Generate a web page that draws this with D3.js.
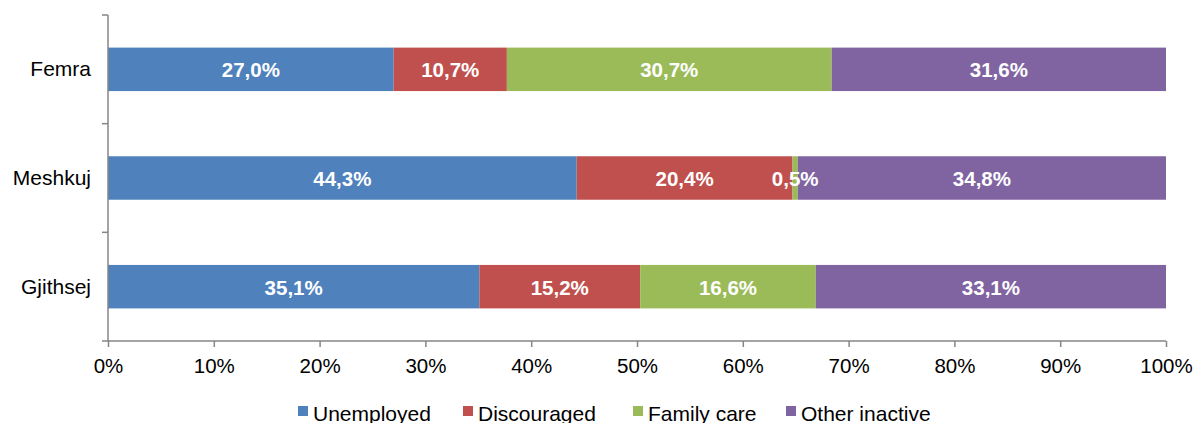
<!DOCTYPE html>
<html>
<head>
  <script src="https://cdnjs.cloudflare.com/ajax/libs/d3/7.8.5/d3.min.js"></script>
  <style>
    body { margin: 0; background: #fff; overflow: hidden; }
    svg { display: block; }
    text { font-family: "Liberation Sans", Arial, sans-serif; }
    .bar-label { fill: #fff; font-weight: bold; font-size: 20.5px; }
  </style>
</head>
<body>
  <div id="chart"></div>
  <script>
    // Data
    const categories = ["Femra", "Meshkuj", "Gjithsej"];
    const seriesNames = ["Unemployed", "Discouraged", "Family care", "Other inactive"];
    const unemployed = [27.0, 44.3, 35.1];
    const discouraged = [10.7, 20.4, 15.2];
    const familyCare = [30.7, 0.5, 16.6];
    const otherInactive = [31.6, 34.8, 33.1];
    const xTicks = [0, 10, 20, 30, 40, 50, 60, 70, 80, 90, 100];

    const colors = ["#4F81BD", "#C0504D", "#9BBB59", "#8064A2"];
    const seriesValues = [unemployed, discouraged, familyCare, otherInactive];

    const W = 1203, H = 423;
    const plot = { left: 108, right: 1166, top: 15, bottom: 341 };

    const svg = d3.select("#chart").append("svg")
      .attr("width", W).attr("height", H);

    const x = d3.scaleLinear().domain([0, 100]).range([plot.left, plot.right]);
    const y = d3.scaleBand().domain(categories).range([plot.top, plot.bottom]).paddingInner(0.6).paddingOuter(0.3);

    // build stack rows
    const rows = categories.map((c, i) => {
      const r = { cat: c };
      seriesNames.forEach((s, j) => { r[s] = seriesValues[j][i]; });
      return r;
    });
    const stacked = d3.stack().keys(seriesNames)(rows);

    // bars
    stacked.forEach((layer, j) => {
      svg.append("g").selectAll("rect")
        .data(layer)
        .join("rect")
        .attr("x", d => x(d[0]))
        .attr("y", d => y(d.data.cat))
        .attr("width", d => x(d[1]) - x(d[0]))
        .attr("height", y.bandwidth())
        .attr("fill", colors[j]);
    });

    // labels
    stacked.forEach((layer, j) => {
      svg.append("g").selectAll("text")
        .data(layer)
        .join("text")
        .attr("class", "bar-label")
        .attr("x", d => (x(d[0]) + x(d[1])) / 2)
        .attr("y", d => y(d.data.cat) + y.bandwidth() / 2 + 8)
        .attr("text-anchor", "middle")
        .text(d => (d[1] - d[0]).toFixed(1).replace(".", ",") + "%");
    });

    // y axis line with category tick marks
    const axisColor = "#868686";
    svg.append("line")
      .attr("x1", plot.left).attr("x2", plot.left)
      .attr("y1", plot.top).attr("y2", plot.bottom)
      .attr("stroke", axisColor).attr("stroke-width", 1.5);
    const step = (plot.bottom - plot.top) / categories.length;
    svg.append("g").selectAll("line")
      .data(d3.range(categories.length + 1))
      .join("line")
      .attr("x1", plot.left - 6).attr("x2", plot.left)
      .attr("y1", d => plot.top + d * step).attr("y2", d => plot.top + d * step)
      .attr("stroke", axisColor).attr("stroke-width", 1.5);

    svg.append("g").selectAll("text")
      .data(categories)
      .join("text")
      .attr("x", plot.left - 17)
      .attr("y", d => y(d) + y.bandwidth() / 2 + 7)
      .attr("text-anchor", "end")
      .style("font-size", "21px")
      .attr("fill", "#000")
      .text(d => d);

    // x axis
    const xAxis = svg.append("g")
      .attr("transform", `translate(0,${plot.bottom})`)
      .call(d3.axisBottom(x).tickValues(xTicks).tickSize(6).tickFormat(d => d + "%"));
    xAxis.select(".domain").attr("stroke", axisColor).attr("stroke-width", 1.5)
      .attr("d", `M${plot.left},0H${plot.right}`);
    xAxis.selectAll(".tick line").attr("stroke", axisColor).attr("stroke-width", 1.5);
    xAxis.selectAll(".tick text")
      .attr("fill", "#000")
      .style("font-size", "20.5px")
      .style("font-family", "'Liberation Sans', Arial, sans-serif")
      .attr("dy", 0).attr("y", 32);

    // legend
    const legendX = [298, 463, 633, 786];
    const legend = svg.append("g");
    seriesNames.forEach((s, j) => {
      legend.append("rect")
        .attr("x", legendX[j]).attr("y", 406)
        .attr("width", 10).attr("height", 10)
        .attr("fill", colors[j]);
      legend.append("text")
        .attr("x", legendX[j] + 15).attr("y", 421)
        .style("font-size", "21px")
        .attr("fill", "#000")
        .text(s);
    });
  </script>
</body>
</html>
